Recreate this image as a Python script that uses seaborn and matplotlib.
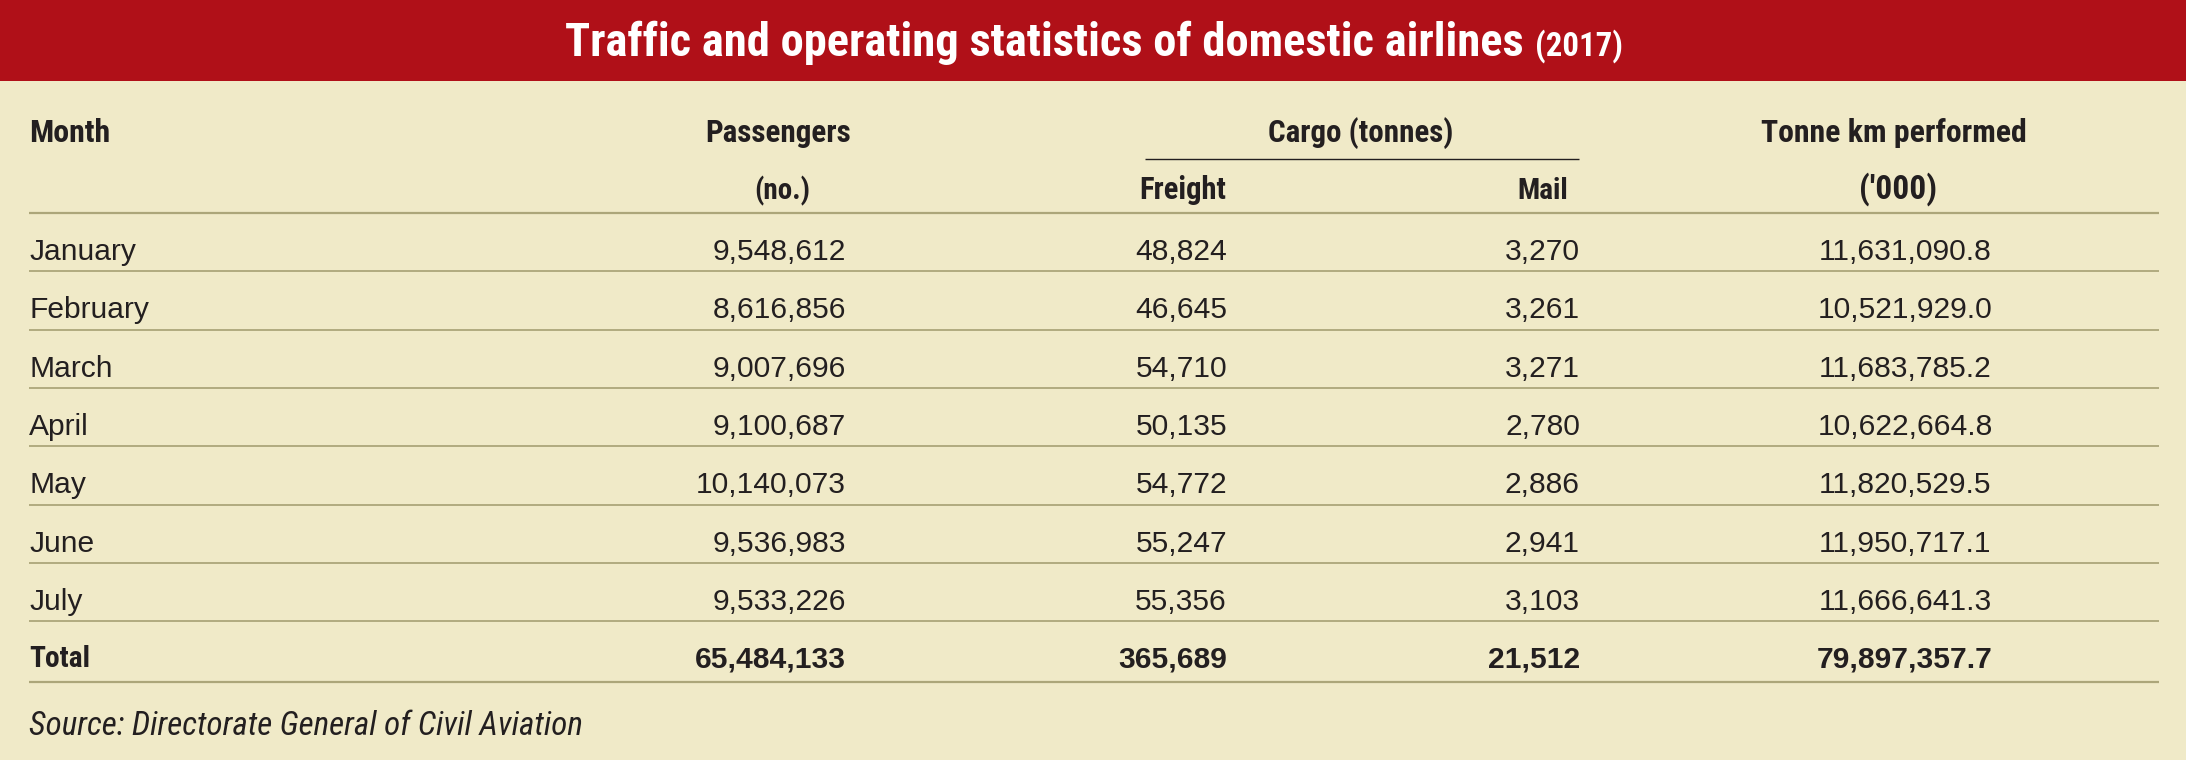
import matplotlib
matplotlib.use("Agg")
import matplotlib.pyplot as plt
from matplotlib import font_manager as fm
from matplotlib.patches import Rectangle
import seaborn as sns
import pandas as pd

# ---------------- data ----------------
months = ["January", "February", "March", "April", "May", "June", "July"]
passengers = [9548612, 8616856, 9007696, 9100687, 10140073, 9536983, 9533226]
freight = [48824, 46645, 54710, 50135, 54772, 55247, 55356]
mail = [3270, 3261, 3271, 2780, 2886, 2941, 3103]
tonne_km = [11631090.8, 10521929.0, 11683785.2, 10622664.8, 11820529.5, 11950717.1, 11666641.3]
total_label = "Total"
totals = [65484133, 365689, 21512, 79897357.7]

title_main = "Traffic and operating statistics of domestic airlines"
title_year = "(2017)"
header_top = ["Month", "Passengers", "Cargo (tonnes)", "Tonne km performed"]
header_sub = ["(no.)", "Freight", "Mail", "('000)"]
source = "Source: Directorate General of Civil Aviation"

table = pd.DataFrame({"Month": months, "Passengers": passengers, "Freight": freight,
                      "Mail": mail, "TKM": tonne_km})

# ---------------- style ----------------
sns.set_theme(style="white")
available = {f.name for f in fm.fontManager.ttflist}


def pick(*names):
    for n in names:
        if n in available:
            return n
    return "DejaVu Sans"


BODY = pick("Liberation Sans", "Arial", "DejaVu Sans")
NARROW = pick("Liberation Sans Narrow", "Arial Narrow", "Roboto Condensed", BODY)
plt.rcParams["font.family"] = [BODY, "DejaVu Sans"]

RED = "#B01018"
BG = "#F0EAC8"
RULE = "#ACA67A"
INK = "#231F20"

W, H = 2186, 760
fig = plt.figure(figsize=(W / 100, H / 100), dpi=100)
fig.patch.set_facecolor(BG)
ax = fig.add_axes([0, 0, 1, 1])
ax.set_xlim(0, W)
ax.set_ylim(H, 0)
ax.axis("off")
ax.set_facecolor(BG)

renderer = fig.canvas.get_renderer()


def fit(t, width):
    bb = t.get_window_extent(renderer)
    if bb.width > 0:
        t.set_fontsize(t.get_fontsize() * width / bb.width)
    return t


# banner
ax.add_patch(Rectangle((0, 0), W, 81, facecolor=RED, edgecolor="none", zorder=0))
tm = ax.text(565, 56, title_main, color="white", fontsize=34, fontweight="bold",
             family=[NARROW, "DejaVu Sans"], ha="left", va="baseline")
fit(tm, 958)
ty = ax.text(1535, 56, title_year, color="white", fontsize=20, fontweight="bold",
             family=[NARROW, "DejaVu Sans"], ha="left", va="baseline")
fit(ty, 88)

# columns
x_month = 29
x_pass = 846
x_freight = 1227
x_mail = 1580
x_tkm = 1905

FS = 21.6
hkw = dict(color=INK, fontsize=22, fontweight="bold", family=[NARROW, "DejaVu Sans"], va="baseline")

fit(ax.text(x_month, 142, header_top[0], ha="left", **hkw), 81)
fit(ax.text(778, 142, header_top[1], ha="center", **hkw), 146)
fit(ax.text(1361, 142, header_top[2], ha="center", **hkw), 185)
fit(ax.text(1894, 142, header_top[3], ha="center", **hkw), 266)
fit(ax.text(782, 199, header_sub[0], ha="center", **hkw), 56)
fit(ax.text(1226, 199, header_sub[1], ha="right", **hkw), 87)
fit(ax.text(1568, 199, header_sub[2], ha="right", **hkw), 51)
fit(ax.text(1898, 199, header_sub[3], ha="center", **hkw), 78)

# cargo underline
ax.hlines(159, 1145, 1579, color=INK, linewidth=1.0)

# rules
header_rule = 213
step = 58.3
ax.hlines(header_rule, 29, 2159, color=RULE, linewidth=1.6)
n = len(table)
for i in range(1, n + 1):
    ax.hlines(header_rule + i * step, 29, 2159, color=RULE, linewidth=1.3)
ax.hlines(682, 29, 2159, color=RULE, linewidth=1.6)

# body rows
bkw = dict(color=INK, fontsize=FS, va="baseline")
for i, row in table.iterrows():
    yb = header_rule + i * step + 47
    ax.text(x_month, yb, row["Month"], ha="left", **bkw)
    ax.text(x_pass, yb, f"{int(row['Passengers']):,}", ha="right", **bkw)
    ax.text(x_freight, yb, f"{int(row['Freight']):,}", ha="right", **bkw)
    ax.text(x_mail, yb, f"{int(row['Mail']):,}", ha="right", **bkw)
    ax.text(x_tkm, yb, f"{row['TKM']:,.1f}", ha="center", **bkw)

# total row
yt = 667
tkw = dict(color=INK, fontsize=FS, fontweight="bold", va="baseline")
fit(ax.text(x_month, yt, total_label, ha="left", family=[NARROW, "DejaVu Sans"], **tkw), 61)
ax.text(x_pass, yt, f"{totals[0]:,}", ha="right", **tkw)
ax.text(x_freight, yt, f"{totals[1]:,}", ha="right", **tkw)
ax.text(x_mail, yt, f"{totals[2]:,}", ha="right", **tkw)
ax.text(x_tkm, yt, f"{totals[3]:,.1f}", ha="center", **tkw)

# source
s = ax.text(x_month, 735, source, color=INK, fontsize=20, style="italic",
            family=[NARROW, "DejaVu Sans"], ha="left", va="baseline")
fit(s, 553)

fig.savefig("out.png", dpi=100, facecolor=BG)
